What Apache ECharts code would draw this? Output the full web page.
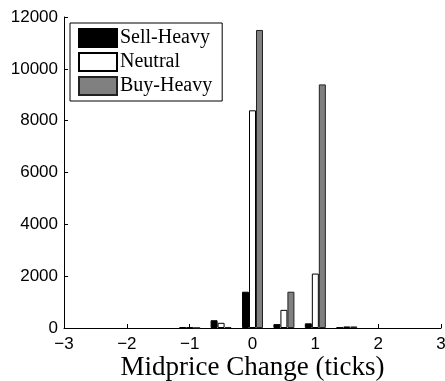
<!DOCTYPE html>
<html>
<head>
<meta charset="utf-8">
<script src="https://cdn.jsdelivr.net/npm/echarts@6/dist/echarts.min.js"></script>
<style>
  html, body { margin: 0; padding: 0; background: #fff; }
  #chart { width: 445px; height: 381px; }
</style>
</head>
<body>
<div id="chart"></div>
<script>
// midprice change bins (ticks) and counts per class
const positions = [-1, -0.5, 0, 0.5, 1, 1.5];
const sellHeavy = [30, 300, 1400, 150, 180, 20];
const neutral = [20, 200, 8400, 700, 2100, 60];
const buyHeavy = [5, 40, 11500, 1400, 9400, 60];
const seriesNames = ['Sell-Heavy', 'Neutral', 'Buy-Heavy'];

const pairs = vals => positions.map((p, i) => [p, vals[i]]);
const minus = v => String(v).replace('-', '\u2212');

const chart = echarts.init(document.getElementById('chart'));

const barSeries = (name, vals, fill, border) => ({
    name: name,
    type: 'bar',
    data: pairs(vals),
    barWidth: 7,
    barGap: '0%',
    itemStyle: { color: fill, borderColor: border, borderWidth: 1 },
    emphasis: { disabled: true },
});

chart.setOption({
    animation: false,
    grid: { left: 64, right: 4, top: 17, bottom: 53, outerBoundsMode: 'none' },
    legend: {
        orient: 'vertical',
        left: 70,
        top: 23,
        data: seriesNames,
        icon: 'rect',
        itemWidth: 38,
        itemHeight: 18,
        itemGap: 4,
        padding: [5, 10, 5, 8],
        backgroundColor: '#fff',
        borderColor: '#000',
        borderWidth: 1,
        textStyle: {
            fontFamily: 'Liberation Serif', fontSize: 20, lineHeight: 18,
            color: '#000', padding: [0, 0, 0, -2],
        },
    },
    xAxis: {
        type: 'value',
        min: -3,
        max: 3,
        interval: 1,
        name: 'Midprice Change (ticks)',
        nameLocation: 'middle',
        nameGap: 26,
        nameMoveOverlap: false,
        nameTextStyle: { fontFamily: 'Liberation Serif', fontSize: 27, color: '#000' },
        axisLine: { lineStyle: { color: '#000', width: 1 } },
        axisTick: { inside: true, length: 4, lineStyle: { color: '#000' } },
        axisLabel: {
            fontFamily: 'Liberation Sans', fontSize: 17, color: '#000', margin: 8,
            formatter: minus,
        },
        splitLine: { show: false },
    },
    yAxis: {
        type: 'value',
        min: 0,
        max: 12000,
        interval: 2000,
        axisLine: { show: true, onZero: false, lineStyle: { color: '#000', width: 1 } },
        axisTick: { show: true, inside: true, length: 4, lineStyle: { color: '#000' } },
        axisLabel: { fontFamily: 'Liberation Sans', fontSize: 17, color: '#000', margin: 6, formatter: v => String(v) },
        splitLine: { show: false },
    },
    series: [
        barSeries(seriesNames[0], sellHeavy, '#000000', '#000000'),
        barSeries(seriesNames[1], neutral, '#ffffff', '#000000'),
        barSeries(seriesNames[2], buyHeavy, '#808080', '#222222'),
    ],
});
</script>
</body>
</html>
